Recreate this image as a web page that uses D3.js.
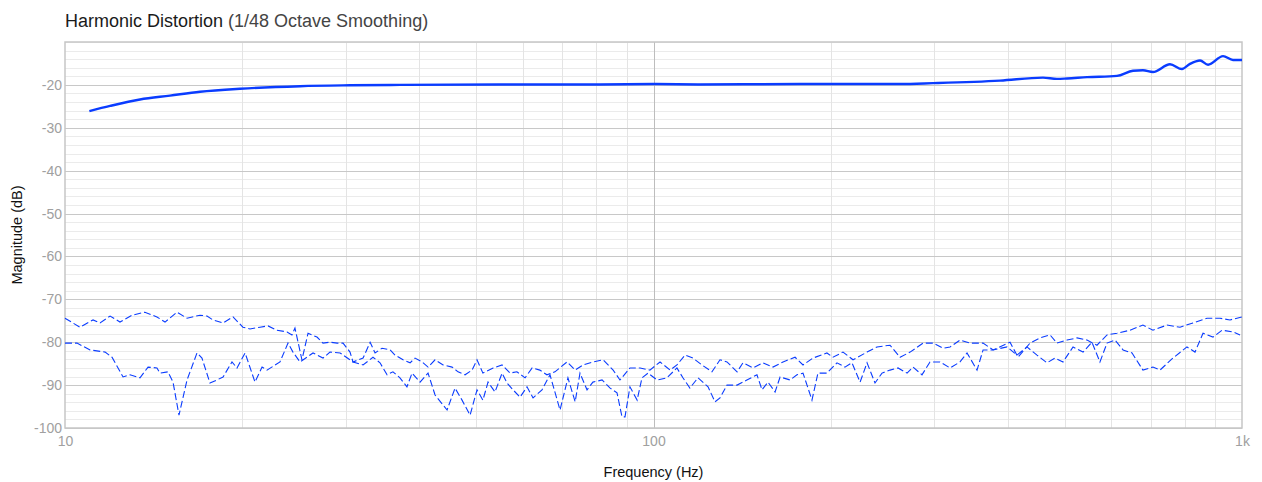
<!DOCTYPE html>
<html lang="en">
<head>
  <meta charset="utf-8">
  <title>Harmonic Distortion</title>
  <script src="https://d3js.org/d3.v7.min.js"></script>
  <style>
    body { margin: 0; background: #fff; font-family: "Liberation Sans", Arial, sans-serif; }
    .grid line { shape-rendering: crispEdges; }
    .tick-label { fill: #a0a0a0; font-size: 14px; }
  </style>
</head>
<body>
<script>
// fundamental (solid)
var fundFreq = [11.0, 11.93, 13.41, 15.08, 16.96, 19.83, 25.08, 30.5, 37.08, 54.9, 81.1, 100, 120, 177.4, 262.4, 298.6, 388, 459, 484.9, 504.3, 545.3, 613.2, 652.9, 678.7, 705.8, 754.5, 790.7, 815.8, 848.5, 875.6, 928.5, 965.4, 1000];
var fundDb = [-26.1, -24.9, -23.4, -22.5, -21.6, -20.9, -20.3, -20.1, -20.0, -19.9, -19.9, -19.8, -19.9, -19.8, -19.8, -19.6, -19.0, -18.3, -18.6, -18.5, -18.2, -17.9, -16.7, -16.6, -17.0, -15.2, -16.3, -15.1, -14.3, -15.3, -13.3, -14.2, -14.2];

// 2nd harmonic (upper dashed)
var h2Freq = [10, 10.6, 11.16, 11.47, 11.93, 12.4, 13.0, 13.67, 14.33, 14.79, 15.5, 16.12, 16.96, 17.43, 17.84, 18.56, 19.3, 20.06, 20.62, 21.45, 22.13, 22.92, 23.84, 24.3, 24.59, 25.27, 25.88, 26.8, 27.44, 28.2, 29.0, 29.68, 30.5, 30.86, 32.1, 33.0, 33.64, 34.57, 35.68, 36.37, 37.53, 38.58, 39.34, 40.43, 41.39, 42.54, 43.9, 45.47, 46.54, 47.84, 49.17, 50.13, 51.3, 53.4, 55.3, 57.05, 58.6, 60.5, 62.2, 64.1, 65.9, 68.0, 71.3, 73.6, 75.9, 78.9, 82.1, 85.4, 87.7, 91.2, 94.9, 98.6, 102.6, 106.7, 109.6, 113.1, 116.7, 120.9, 125.7, 129.7, 133.3, 138.7, 141.9, 147.6, 153.5, 159.6, 166.0, 174.0, 179.5, 186.6, 197.1, 201.8, 209.9, 218.3, 230.6, 239.8, 252.3, 262.4, 272.9, 287.1, 298.6, 310.5, 319.1, 331.8, 345.0, 363.1, 377.6, 403.5, 416.3, 436.3, 453.8, 471.9, 484.9, 504.3, 524.4, 545.3, 567.0, 589.7, 613.2, 645.2, 678.7, 705.8, 745.6, 784.6, 825.4, 872.0, 917.6, 954.2, 1000];
var h2Db = [-74.4, -76.5, -74.8, -75.5, -73.9, -75.3, -73.7, -73.0, -74.1, -75.3, -73.0, -74.4, -73.7, -73.9, -74.8, -75.5, -74.1, -76.5, -76.9, -76.5, -76.2, -77.2, -77.6, -78.3, -76.7, -84.1, -77.9, -78.8, -80.2, -80.0, -80.2, -80.2, -82.3, -84.6, -83.7, -80.0, -82.5, -81.4, -81.8, -83.0, -84.1, -84.8, -83.7, -84.6, -85.8, -84.1, -85.3, -85.8, -86.9, -87.6, -86.5, -84.1, -87.2, -86.0, -85.3, -87.2, -86.9, -88.3, -86.0, -86.5, -87.6, -86.9, -84.6, -86.5, -85.3, -84.6, -84.1, -86.5, -88.8, -86.0, -86.0, -86.5, -84.6, -86.5, -85.3, -83.0, -83.7, -85.3, -86.9, -84.1, -84.6, -86.9, -84.8, -86.0, -84.8, -85.8, -84.6, -83.5, -85.3, -83.7, -82.5, -83.5, -82.3, -84.1, -82.3, -81.1, -80.7, -83.5, -82.3, -80.2, -80.2, -81.4, -81.1, -79.5, -80.2, -80.2, -81.8, -80.0, -83.5, -80.2, -79.0, -78.3, -80.2, -79.5, -79.0, -79.5, -80.7, -78.3, -77.9, -77.2, -76.0, -77.2, -76.0, -76.5, -75.5, -74.4, -74.4, -74.8, -74.1];

// 3rd harmonic (lower dashed)
var h3Freq = [10, 10.48, 11.03, 11.7, 12.02, 12.55, 12.9, 13.41, 13.84, 14.33, 14.5, 14.96, 15.26, 15.62, 16.12, 16.76, 17.09, 17.63, 18.12, 18.56, 19.22, 19.6, 20.23, 21.03, 21.62, 22.04, 23.19, 23.93, 24.4, 25.08, 26.39, 27.44, 28.2, 29.34, 30.86, 32.1, 33.37, 34.3, 35.26, 36.08, 37.08, 38.11, 38.88, 40.12, 41.39, 42.54, 44.59, 46.0, 47.28, 48.79, 50.13, 51.3, 52.34, 53.79, 55.3, 56.38, 57.72, 59.33, 60.96, 62.42, 64.64, 66.7, 69.37, 71.55, 73.6, 75.0, 77.1, 78.9, 81.77, 84.4, 86.7, 88.4, 89.45, 91.2, 93.8, 95.6, 97.9, 101.4, 105.4, 109.6, 112.2, 115.3, 119.0, 123.8, 127.2, 129.7, 133.3, 138.7, 144.1, 149.9, 152.9, 156.5, 160.9, 164.1, 170.6, 175.3, 179.5, 185.9, 190.3, 197.1, 205.0, 211.5, 217.4, 224.4, 230.6, 237.9, 244.5, 252.3, 260.3, 269.7, 276.1, 285.9, 295.0, 306.9, 319.1, 331.8, 341.0, 354.6, 363.1, 377.6, 398.8, 414.6, 431.2, 448.4, 466.3, 481.2, 496.4, 516.3, 536.9, 555.9, 573.6, 589.7, 608.5, 627.9, 650.3, 678.7, 705.8, 725.5, 763.1, 806.2, 832.0, 858.5, 892.8, 924.8, 965.4, 992.2];
var h3Db = [-80.2, -80.2, -81.8, -82.3, -83.5, -88.1, -87.6, -88.3, -85.8, -86.0, -87.2, -86.9, -89.3, -97.0, -88.8, -82.5, -83.7, -89.5, -88.8, -88.1, -84.6, -86.0, -82.5, -89.3, -85.8, -86.5, -84.6, -80.2, -82.3, -84.6, -82.5, -83.7, -82.3, -82.5, -84.6, -85.3, -83.5, -84.8, -87.6, -86.9, -88.3, -90.4, -87.2, -89.3, -87.2, -92.3, -95.8, -90.7, -93.5, -97.0, -91.1, -93.5, -89.3, -91.6, -87.2, -89.5, -91.1, -92.8, -90.4, -93.0, -91.1, -87.6, -95.8, -88.3, -93.9, -87.2, -91.1, -89.3, -88.8, -90.7, -91.8, -97.4, -97.4, -90.4, -93.5, -88.3, -87.2, -88.8, -88.3, -86.0, -88.3, -90.7, -88.3, -90.4, -93.9, -93.0, -90.0, -90.0, -88.8, -87.6, -91.1, -89.3, -91.6, -88.1, -88.8, -87.6, -87.2, -93.5, -87.2, -87.2, -84.8, -85.8, -84.8, -89.3, -84.8, -89.5, -87.2, -86.5, -86.0, -87.2, -85.8, -87.6, -84.6, -84.6, -86.0, -84.6, -82.5, -86.5, -81.8, -81.8, -81.1, -83.0, -81.1, -83.0, -84.8, -83.7, -84.6, -81.1, -82.3, -80.0, -84.6, -80.2, -79.5, -81.8, -82.5, -86.5, -85.8, -86.5, -83.7, -81.1, -82.3, -77.9, -78.8, -77.2, -77.6, -78.3];

var xTicks = [10, 100, 1000];
var xTickLabels = ['10', '100', '1k'];
var xMinor = [20, 30, 40, 50, 60, 70, 80, 90, 200, 300, 400, 500, 600, 700, 800, 900];
var yTicks = [-20, -30, -40, -50, -60, -70, -80, -90, -100];
var yMinor = d3.range(-100, -9, 2);

var width = 1262, height = 482;
var margin = { top: 42, right: 20, bottom: 54, left: 65 };
var innerWidth = width - margin.left - margin.right,
    innerHeight = height - margin.top - margin.bottom;

var svg = d3.select('body').append('svg')
  .attr('width', width)
  .attr('height', height);

var g = svg.append('g')
  .attr('transform', 'translate(' + [margin.left, margin.top] + ')');

var x = d3.scaleLog().domain([10, 1000]).range([0, innerWidth]);
var y = d3.scaleLinear().domain([-100, -10]).range([innerHeight, 0]);

// grid
var grid = g.append('g').attr('class', 'grid');
grid.selectAll('.hminor').data(yMinor).enter().append('line')
  .attr('x1', 0).attr('x2', innerWidth)
  .attr('y1', function(d){ return Math.round(y(d)) + 0.5; })
  .attr('y2', function(d){ return Math.round(y(d)) + 0.5; })
  .style('stroke', '#ebebeb').style('stroke-width', 1.2);
grid.selectAll('.vminor').data(xMinor).enter().append('line')
  .attr('y1', 0).attr('y2', innerHeight)
  .attr('x1', function(d){ return Math.round(x(d)) + 0.5; })
  .attr('x2', function(d){ return Math.round(x(d)) + 0.5; })
  .style('stroke', '#e4e4e4').style('stroke-width', 1.2);
grid.selectAll('.hmajor').data(yTicks).enter().append('line')
  .attr('x1', 0).attr('x2', innerWidth)
  .attr('y1', function(d){ return Math.round(y(d)) + 0.5; })
  .attr('y2', function(d){ return Math.round(y(d)) + 0.5; })
  .style('stroke', '#c8c8c8').style('stroke-width', 1.2);
grid.append('line')
  .attr('y1', 0).attr('y2', innerHeight)
  .attr('x1', Math.round(x(100)) + 0.5).attr('x2', Math.round(x(100)) + 0.5)
  .style('stroke', '#bdbdbd').style('stroke-width', 1.2);

g.append('rect')
  .attr('width', innerWidth).attr('height', innerHeight)
  .style('fill', 'none').style('stroke', '#c6c6c6').style('stroke-width', 1.5);

// axes (labels only)
var yAxis = d3.axisLeft(y).tickValues(yTicks).tickSize(0).tickPadding(3)
  .tickFormat(function(d){ return String(d); });
g.append('g').call(yAxis)
  .call(function(s){ s.select('.domain').remove(); })
  .selectAll('text').attr('class', 'tick-label').style('font-family', 'inherit');

var xAxis = d3.axisBottom(x).tickValues(xTicks).tickSize(0).tickPadding(8)
  .tickFormat(function(d, i){ return xTickLabels[i]; });
g.append('g').attr('transform', 'translate(0,' + innerHeight + ')').call(xAxis)
  .call(function(s){ s.select('.domain').remove(); })
  .selectAll('text').attr('class', 'tick-label').style('font-family', 'inherit');

// series
function pts(fr, db) { return fr.map(function(f, i){ return [f, db[i]]; }); }
var line = d3.line().x(function(d){ return x(d[0]); }).y(function(d){ return y(d[1]); });

g.append('path').datum(pts(h2Freq, h2Db)).attr('d', line)
  .style('fill', 'none').style('stroke', '#0a3cff').style('stroke-width', 1.1)
  .style('stroke-dasharray', '7,3');
g.append('path').datum(pts(h3Freq, h3Db)).attr('d', line)
  .style('fill', 'none').style('stroke', '#0a3cff').style('stroke-width', 1.1)
  .style('stroke-dasharray', '7,3');
g.append('path').datum(pts(fundFreq, fundDb)).attr('d', d3.line().curve(d3.curveMonotoneX).x(function(d){ return x(d[0]); }).y(function(d){ return y(d[1]); }))
  .style('fill', 'none').style('stroke', '#0a3cff').style('stroke-width', 2.4);

// titles
var title = svg.append('text').attr('x', margin.left).attr('y', 27)
  .style('font-size', '18px').style('fill', '#1a1a1a');
title.append('tspan').text('Harmonic Distortion');
title.append('tspan').style('fill', '#444').text(' (1/48 Octave Smoothing)');

svg.append('text')
  .attr('transform', 'translate(22,' + (margin.top + innerHeight / 2) + ') rotate(-90)')
  .attr('text-anchor', 'middle')
  .style('font-size', '14.5px').style('fill', '#111')
  .text('Magnitude (dB)');

svg.append('text')
  .attr('x', margin.left + innerWidth / 2).attr('y', 477)
  .attr('text-anchor', 'middle')
  .style('font-size', '14.5px').style('fill', '#111')
  .text('Frequency (Hz)');
</script>
</body>
</html>
